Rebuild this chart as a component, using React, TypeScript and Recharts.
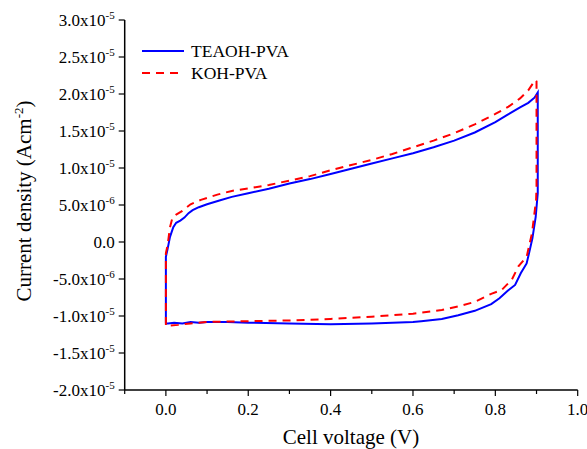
import React from 'react';
import { LineChart, Line, XAxis, YAxis, Legend } from 'recharts';

const FONT = "'Liberation Serif', 'Times New Roman', Times, serif";

const xTicks = [-0.1, 0, 0.1, 0.2, 0.3, 0.4, 0.5, 0.6, 0.7, 0.8, 0.9, 1.0];
const yTicks = [
  -2e-5, -1.75e-5, -1.5e-5, -1.25e-5, -1e-5, -7.5e-6, -5e-6, -2.5e-6, 0,
  2.5e-6, 5e-6, 7.5e-6, 1e-5, 1.25e-5, 1.5e-5, 1.75e-5, 2e-5, 2.25e-5, 2.5e-5, 2.75e-5, 3e-5,
];

const seriesNames = ['TEAOH-PVA', 'KOH-PVA'];

// TEAOH-PVA cyclic voltammogram (voltage V, current density A cm^-2), in scan order
const teaohV = [
  0.000, 0.000, 0.004, 0.010, 0.018, 0.025, 0.035, 0.045, 0.055, 0.065, 0.080, 0.100, 0.130, 0.160,
  0.200, 0.250, 0.300, 0.350, 0.400, 0.450, 0.500, 0.550, 0.600, 0.650, 0.700, 0.750, 0.800, 0.830,
  0.860, 0.880, 0.895, 0.903, 0.903, 0.898, 0.890, 0.884, 0.876, 0.862, 0.848, 0.830, 0.810, 0.790,
  0.750, 0.710, 0.670, 0.620, 0.600, 0.500, 0.400, 0.300, 0.200, 0.150, 0.100, 0.080, 0.060, 0.040,
  0.020, 0.005, 0.000,
];
const teaohJ = [
  -1.10e-5, -2.0e-6, -1.0e-6, 0.7e-6, 2.0e-6, 2.6e-6, 2.9e-6, 3.3e-6, 3.9e-6, 4.3e-6, 4.7e-6, 5.1e-6, 5.6e-6, 6.1e-6,
  6.6e-6, 7.2e-6, 7.9e-6, 8.5e-6, 9.2e-6, 9.9e-6, 1.06e-5, 1.13e-5, 1.20e-5, 1.28e-5, 1.37e-5, 1.48e-5, 1.62e-5, 1.72e-5,
  1.82e-5, 1.88e-5, 1.95e-5, 2.02e-5, 6.6e-6, 3.4e-6, 0.5e-6, -1.0e-6, -2.9e-6, -4.2e-6, -5.8e-6, -6.6e-6, -7.6e-6, -8.4e-6,
  -9.3e-6, -9.9e-6, -1.04e-5, -1.07e-5, -1.08e-5, -1.10e-5, -1.11e-5, -1.10e-5, -1.09e-5, -1.08e-5, -1.08e-5, -1.09e-5, -1.08e-5, -1.10e-5,
  -1.09e-5, -1.10e-5, -1.10e-5,
];

// KOH-PVA cyclic voltammogram, in scan order
const kohV = [
  0.000, 0.000, 0.004, 0.010, 0.016, 0.025, 0.040, 0.060, 0.085, 0.125, 0.160, 0.206, 0.250, 0.300,
  0.350, 0.400, 0.450, 0.500, 0.550, 0.600, 0.650, 0.700, 0.750, 0.800, 0.832, 0.860, 0.880, 0.897,
  0.900, 0.900, 0.899, 0.889, 0.876, 0.856, 0.840, 0.815, 0.790, 0.750, 0.710, 0.670, 0.600, 0.500,
  0.400, 0.300, 0.200, 0.100, 0.060, 0.030, 0.010, 0.000,
];
const kohJ = [
  -1.12e-5, -1.5e-6, -0.5e-6, 2.0e-6, 3.3e-6, 3.7e-6, 4.2e-6, 5.1e-6, 5.7e-6, 6.4e-6, 6.9e-6, 7.3e-6, 7.7e-6, 8.3e-6,
  8.9e-6, 9.7e-6, 1.04e-5, 1.11e-5, 1.19e-5, 1.28e-5, 1.37e-5, 1.47e-5, 1.59e-5, 1.73e-5, 1.83e-5, 1.94e-5, 2.05e-5, 2.19e-5,
  2.17e-5, 7.5e-6, 5.7e-6, 1.2e-6, -2.0e-6, -3.3e-6, -5.1e-6, -6.5e-6, -7.0e-6, -8.1e-6, -8.7e-6, -9.2e-6, -9.7e-6, -1.01e-5,
  -1.04e-5, -1.06e-5, -1.07e-5, -1.08e-5, -1.10e-5, -1.12e-5, -1.13e-5, -1.12e-5,
];

const teaohData = teaohV.map((v, i) => ({ v, j: teaohJ[i] }));
const kohData = kohV.map((v, i) => ({ v, j: kohJ[i] }));

const textStyle: React.CSSProperties = { fontFamily: FONT };

const XTick = (props: any) => {
  const { x, y, payload } = props;
  const v = payload.value as number;
  const idx = Math.round(v * 10);
  const major = idx % 2 === 0;
  return (
    <g>
      <line x1={x} x2={x} y1={y} y2={y + (major ? 6 : 4)} stroke="#000" strokeWidth={1.2} />
      {major && (
        <text x={x} y={y + 25} textAnchor="middle" fontSize={17} style={textStyle} fill="#000">
          {v.toFixed(1)}
        </text>
      )}
    </g>
  );
};

const YTick = (props: any) => {
  const { x, y, payload } = props;
  const v = payload.value as number;
  const m = Math.round(v / 2.5e-6);
  const major = m % 2 === 0;
  let label: React.ReactNode = null;
  if (major) {
    if (m === 0) {
      label = '0.0';
    } else {
      const exp = Math.floor(Math.log10(Math.abs(v)) + 1e-9);
      const mant = v / Math.pow(10, exp);
      label = (
        <>
          <tspan>{mant.toFixed(1)}x10</tspan>
          <tspan dy={-7} fontSize={11}>{String(exp)}</tspan>
        </>
      );
    }
  }
  return (
    <g>
      <line x1={x} x2={x - (major ? 6 : 4)} y1={y} y2={y} stroke="#000" strokeWidth={1.2} />
      {major && (
        <text x={x - 10} y={y + 6} textAnchor="end" fontSize={17} style={textStyle} fill="#000">
          {label}
        </text>
      )}
    </g>
  );
};

const YLabel = () => (
  <text
    transform="translate(31,201) rotate(-90)"
    textAnchor="middle"
    fontSize={21}
    style={textStyle}
    fill="#000"
  >
    <tspan>Current density (Acm</tspan>
    <tspan dy={-8} fontSize={13}>-2</tspan>
    <tspan dy={8}>)</tspan>
  </text>
);

const XLabel = () => (
  <text x={351} y={444} textAnchor="middle" fontSize={21} style={textStyle} fill="#000">
    Cell voltage (V)
  </text>
);

const LegendContent = () => (
  <svg width={200} height={60} style={{ display: 'block' }}>
    <line x1={12} x2={54} y1={21} y2={21} stroke="#0000ff" strokeWidth={2} />
    <text x={61} y={27} fontSize={17.5} style={textStyle} fill="#000">{seriesNames[0]}</text>
    <line x1={12} x2={54} y1={43} y2={43} stroke="#ff0000" strokeWidth={2} strokeDasharray="8 6" />
    <text x={61} y={49} fontSize={17.5} style={textStyle} fill="#000">{seriesNames[1]}</text>
  </svg>
);

export default function App() {
  return (
    <div style={{ position: 'absolute', left: 0, top: 0, background: '#fff', fontFamily: FONT }}>
      <LineChart
        width={587}
        height={449}
        margin={{ top: 20, right: 9.3, bottom: 0, left: 0 }}
        style={{ fontFamily: FONT }}
      >
        <XAxis
          dataKey="v"
          type="number"
          domain={[-0.1, 1.0]}
          ticks={xTicks}
          allowDataOverflow
          height={59}
          tickSize={0}
          tickMargin={0}
          tickLine={false}
          tick={<XTick />}
          axisLine={{ stroke: '#000', strokeWidth: 1.5 }}
          label={<XLabel />}
        />
        <YAxis
          dataKey="j"
          type="number"
          domain={[-2e-5, 3e-5]}
          ticks={yTicks}
          allowDataOverflow
          width={124.7}
          tickSize={0}
          tickMargin={0}
          tickLine={false}
          tick={<YTick />}
          axisLine={{ stroke: '#000', strokeWidth: 1.5 }}
          label={<YLabel />}
        />
        <Legend
          layout="vertical"
          align="center"
          verticalAlign="middle"
          content={<LegendContent />}
          wrapperStyle={{ position: 'absolute', left: 130, top: 30, width: 200, height: 60 }}
        />
        <Line
          name={seriesNames[0]}
          data={teaohData}
          dataKey="j"
          type="linear"
          stroke="#0000ff"
          strokeWidth={2}
          dot={false}
          activeDot={false}
          isAnimationActive={false}
        />
        <Line
          name={seriesNames[1]}
          data={kohData}
          dataKey="j"
          type="linear"
          stroke="#ff0000"
          strokeWidth={2}
          strokeDasharray="8 6"
          dot={false}
          activeDot={false}
          isAnimationActive={false}
        />
      </LineChart>
    </div>
  );
}
